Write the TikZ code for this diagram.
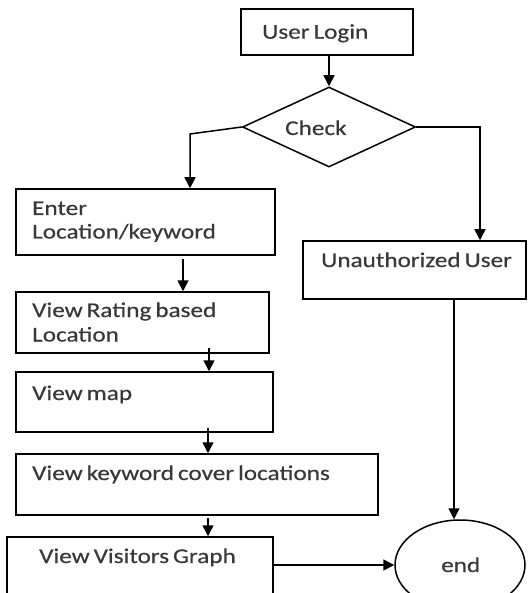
\documentclass[tikz,border=0pt]{standalone}
\usepackage{fontspec}
\setmainfont{Carlito}[FakeStretch=1.2,WordSpace=0.7,FakeBold=0.4]
\usetikzlibrary{arrows.meta,shapes.geometric}
\begin{document}
\begin{tikzpicture}[x=1pt,y=-1pt,
  box/.style={draw=black,line width=1.5pt,fill=white,rectangle,inner sep=0pt},
  lbl/.style={anchor=base west,inner sep=0pt,font=\fontsize{21}{25}\selectfont,text=black!78},
  conn/.style={draw=black,line width=1.5pt,-{Triangle[length=11pt,width=11pt]}}]
\useasboundingbox (0,0) rectangle (527,593);
\clip (0,0) rectangle (527,593);
\fill[white] (0,0) rectangle (527,593);
% boxes
\node[box,minimum width=172pt,minimum height=46pt] (login) at (327,32) {};
\node[draw=black,line width=1.5pt,fill=white,shape=diamond,aspect=2.16,inner sep=0pt,minimum width=173pt,minimum height=80pt] (check) at (329,127) {};
\node[box,minimum width=259pt,minimum height=66pt] (enter) at (145.5,222) {};
\node[box,minimum width=253pt,minimum height=61pt] (rating) at (142.5,322.5) {};
\node[box,minimum width=257pt,minimum height=60pt] (map) at (144.5,402) {};
\node[box,minimum width=362pt,minimum height=61pt] (keyword) at (197,484.5) {};
\node[box,minimum width=266pt,minimum height=61pt] (visitors) at (140,567.5) {};
\node[box,minimum width=223pt,minimum height=58pt] (unauth) at (414.5,270) {};
\node[draw=black,line width=1.5pt,fill=white,shape=ellipse,inner sep=0pt,minimum width=130pt,minimum height=90pt] (end) at (460,565) {};
% texts
\node[lbl] (tlogin) at (262,38.7) {User Login};
\node[lbl] (tcheck) at (285,135) {Check};
\node[lbl] (tenter1) at (32,215) {Enter};
\node[lbl] (tenter2) at (32,238.5) {Location/keyword};
\node[lbl] (trating1) at (32,317) {View Rating based};
\node[lbl] (trating2) at (32,341.5) {Location};
\node[lbl] (tmap) at (32,400) {View map};
\node[lbl] (tkeyword) at (32,480) {View keyword cover locations};
\node[lbl] (tvisitors) at (39,563) {View Visitors Graph};
\node[lbl] (tunauth) at (321,267) {Unauthorized User};
\node[lbl] (tend) at (441,572) {end};
% connectors
\coordinate (cl) at (190,134);
\coordinate (cr) at (480,127);
\draw[conn] (check.north |- login.south) -- (check.north);
\draw[conn] (check.west) -- (cl) -- (cl |- enter.north);
\draw[conn] (check.east) -- (cr) -- (cr |- unauth.north);
\draw[conn] (183,259) -- (183,0 |- rating.north);
\draw[conn] (209,348) -- (209,0 |- map.north);
\draw[conn] (208,428) -- (208,0 |- keyword.north);
\draw[conn] (208,518) -- (208,0 |- visitors.north);
\draw[conn] (visitors.east |- end.west) -- (end.west);
\draw[conn] (454,0 |- unauth.south) -- (454,0 |- end.north);
\end{tikzpicture}
\end{document}
